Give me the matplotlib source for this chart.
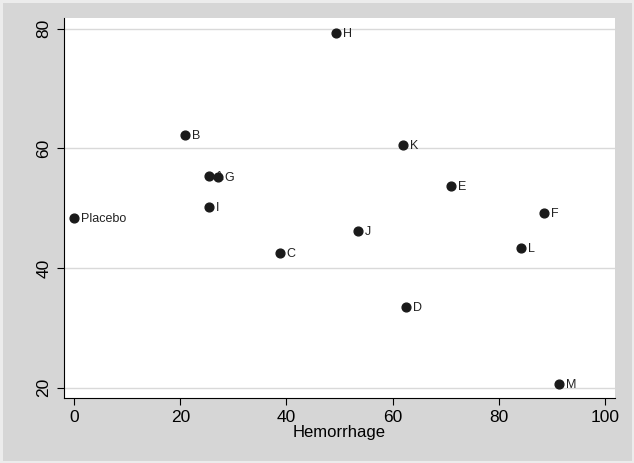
import matplotlib
matplotlib.use('Agg')
import matplotlib.pyplot as plt

# Data
labels = ['Placebo', 'B', 'A', 'G', 'I', 'C', 'H', 'J', 'K', 'D', 'E', 'F', 'L', 'M']
hemorrhage = [0.0, 20.9, 25.4, 27.1, 25.4, 38.8, 49.3, 53.5, 62.0, 62.5, 71.0, 88.5, 84.2, 91.3]
yvals = [48.4, 62.3, 55.4, 55.3, 50.2, 42.5, 79.3, 46.2, 60.6, 33.5, 53.7, 49.2, 43.4, 20.6]
xticks = [0, 20, 40, 60, 80, 100]
yticks = [20, 40, 60, 80]

plt.rcParams['font.family'] = ['Liberation Sans', 'DejaVu Sans']

fig = plt.figure(figsize=(6.34, 4.63), dpi=100, facecolor='#d6d6d6')
fig.patch.set_edgecolor('#ececec')
fig.patch.set_linewidth(2.5)
ax = fig.add_axes([64 / 634, 1 - 398 / 463, 551 / 634, 380 / 463])
ax.set_facecolor('white')

# draw each point with its label so later dots cover earlier labels
for name, x, y in zip(labels, hemorrhage, yvals):
    ax.text(x, y - 0.2, '  ' + name, fontsize=9, color='#222222', va='center', ha='left')
    ax.scatter([x], [y], s=40, color='#1a1a1a', zorder=3)

ax.set_xlim(-1.9, 101.9)
ax.set_ylim(18.3, 81.8)
ax.set_xticks(xticks)
ax.set_yticks(yticks)
ax.set_yticklabels([str(t) for t in yticks], rotation=90, va='center')
ax.tick_params(labelsize=12.5, length=5, width=0.8, color='black', pad=4)
ax.grid(axis='y', color='#d9d9d9', linewidth=1.0)
ax.set_axisbelow(True)
for side in ['top', 'right']:
    ax.spines[side].set_visible(False)
ax.spines['left'].set_linewidth(0.8)
ax.spines['bottom'].set_linewidth(0.8)
ax.set_xlabel('Hemorrhage', fontsize=12, labelpad=0)

fig.savefig('out.png', dpi=100, facecolor=fig.get_facecolor(),
            edgecolor=fig.patch.get_edgecolor())
